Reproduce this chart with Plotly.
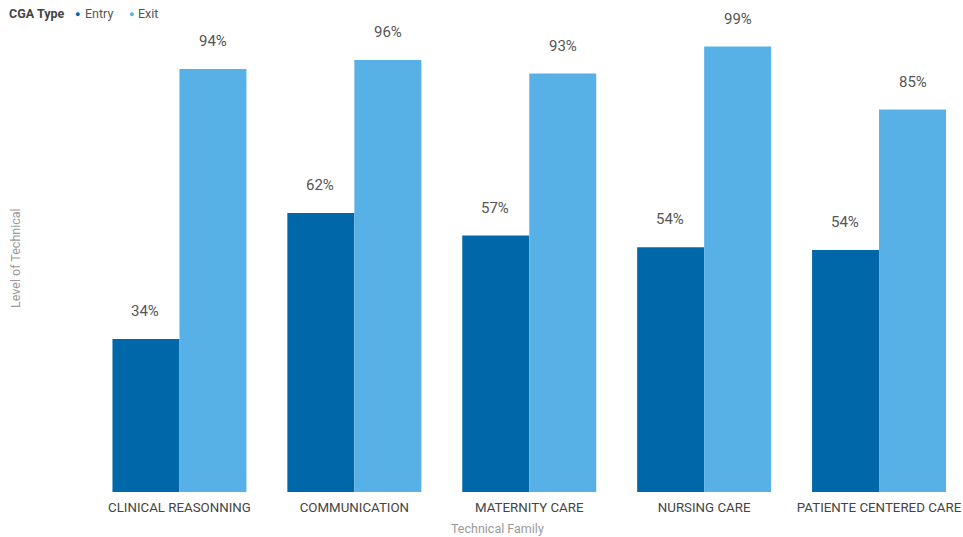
import plotly.graph_objects as go

# Technical family scores by CGA type
families = ["CLINICAL REASONNING", "COMMUNICATION", "MATERNITY CARE",
            "NURSING CARE", "PATIENTE CENTERED CARE"]
entry = [0.34, 0.62, 0.57, 0.544, 0.538]
exit_ = [0.94, 0.96, 0.93, 0.99, 0.85]
series_names = ["Entry", "Exit"]

ENTRY_COLOR = "#0067A9"
EXIT_COLOR = "#58B1E6"
FONT = "Roboto"

# plot area in pixels
L, T, B = 92, 24, 45
W, H = 963, 537
PW, PH = W - L, H - T - B


def px_x(px):
    return (px - L) / PW


def px_y(py):
    return (H - B - py) / PH


fig = go.Figure()
fig.add_trace(go.Bar(name=series_names[0], x=families, y=entry, marker_color=ENTRY_COLOR,
                     marker_line_width=0, showlegend=False))
fig.add_trace(go.Bar(name=series_names[1], x=families, y=exit_, marker_color=EXIT_COLOR,
                     marker_line_width=0, showlegend=False))

annotations = []
# value labels above each bar
for series, shift in [(entry, -34), (exit_, 34)]:
    for cat, v in zip(families, series):
        annotations.append(dict(x=cat, y=v, xref="x", yref="y", text=f"{v:.0%}",
                                showarrow=False, xshift=shift, yshift=28,
                                yanchor="middle",
                                font=dict(family=FONT, size=15, color="#555555")))

# legend row: title, then a round swatch and label per series
legend_y = px_y(13.5)
annotations.append(dict(x=px_x(7), y=legend_y, xref="paper", yref="paper",
                        text="<b>CGA Type</b>", showarrow=False, xanchor="left",
                        yanchor="middle",
                        font=dict(family=FONT, size=12.5, color="#444444")))
for name, color, dot_px, text_px in [(series_names[0], ENTRY_COLOR, 77, 83),
                                     (series_names[1], EXIT_COLOR, 131, 136)]:
    annotations.append(dict(x=px_x(dot_px), y=legend_y, xref="paper", yref="paper",
                            text="●", showarrow=False, xanchor="center",
                            yanchor="middle",
                            font=dict(family=FONT, size=9, color=color)))
    annotations.append(dict(x=px_x(text_px), y=legend_y, xref="paper", yref="paper",
                            text=name, showarrow=False, xanchor="left",
                            yanchor="middle",
                            font=dict(family=FONT, size=12.5, color="#555555")))

# axis titles
annotations.append(dict(x=px_x(497), y=px_y(528), xref="paper", yref="paper",
                        text="Technical Family", showarrow=False,
                        xanchor="center", yanchor="middle",
                        font=dict(family=FONT, size=12.5, color="#9A9A9A")))
annotations.append(dict(x=px_x(15), y=0.5, xref="paper", yref="paper",
                        text="Level of Technical", showarrow=False, textangle=-90,
                        xanchor="center", yanchor="middle",
                        font=dict(family=FONT, size=12.5, color="#9A9A9A")))

fig.update_layout(
    width=W, height=H,
    margin=dict(l=L, r=0, t=T, b=B),
    paper_bgcolor="white", plot_bgcolor="white",
    barmode="group", bargap=0.234, bargroupgap=0,
    font=dict(family=FONT, color="#444444"),
    showlegend=False,
    xaxis=dict(range=[-0.5, 4.48], showgrid=False, showline=False, ticks="",
               ticklabelstandoff=6,
               tickfont=dict(family=FONT, size=13.3, color="#444444")),
    yaxis=dict(range=[0, 1.04], showgrid=False, showticklabels=False,
               zeroline=False, showline=False),
    annotations=annotations,
)

fig.write_html("out.html")
